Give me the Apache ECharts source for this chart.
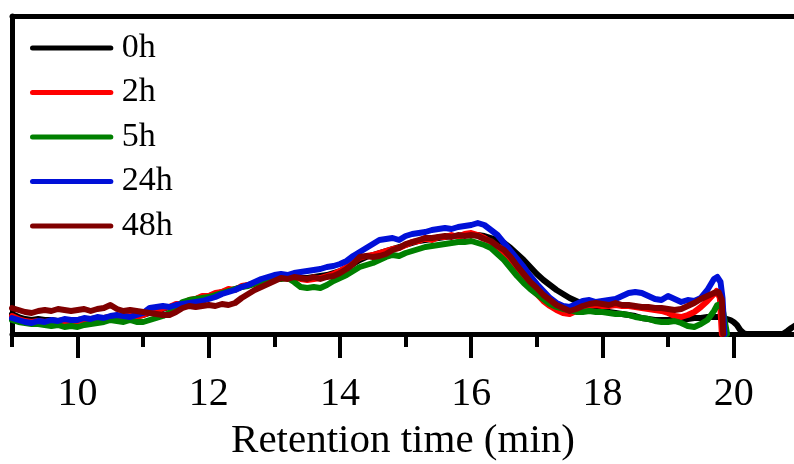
<!DOCTYPE html>
<html><head><meta charset="utf-8">
<script src="https://cdn.jsdelivr.net/npm/echarts@6/dist/echarts.min.js"></script>
<style>html,body{margin:0;padding:0;background:#fff}#c{width:794px;height:464px}</style>
</head><body><div id="c"></div>
<script>
// Retention time grid (min)
const times = [
 9.0,9.1,9.2,9.3,9.4,9.5,9.6,9.7,9.8,9.9,
 10.0,10.1,10.2,10.3,10.4,10.5,10.6,10.7,10.8,10.9,
 11.0,11.1,11.2,11.3,11.4,11.5,11.6,11.7,11.8,11.9,
 12.0,12.1,12.2,12.3,12.4,12.5,12.6,12.7,12.8,12.9,
 13.0,13.1,13.2,13.3,13.4,13.5,13.6,13.7,13.8,13.9,
 14.0,14.1,14.2,14.3,14.4,14.5,14.6,14.7,14.8,14.9,
 15.0,15.1,15.2,15.3,15.4,15.5,15.6,15.7,15.8,15.9,
 16.0,16.1,16.2,16.3,16.4,16.5,16.6,16.7,16.8,16.9,
 17.0,17.1,17.2,17.3,17.4,17.5,17.6,17.7,17.8,17.9,
 18.0,18.1,18.2,18.3,18.4,18.5,18.6,18.7,18.8,18.9,
 19.0,19.1,19.2,19.3,19.4,19.5,19.6,19.7
];
const s0h = [
 20,17,15,14,15,14,14,13,14,14,
 14,15,15,16,16,17,17,17,18,18,
 19,21,23,25,27,29,31,33,35,37,
 38,40,42,43,45,47,49,51,52,54,
 55,56,56,56,56,56,57,58,59,61,
 63,66,70,74,77,79,81,83,85,87,
 89,91,93,94,95,96,97,98,98,99,
 99,99,98,96,94,91,86,80,74,67,
 60,54,49,44,40,36,33,30,28,26,
 24,22,21,20,19,18,16,15,14,14,
 14,14,14,15,16,16,17,17
];
const tail0h = [[19.8,17],[19.9,15],[19.95,14],[20.0,12],[20.05,9],[20.1,4],[20.15,1],[20.2,0],[20.75,0],[20.82,3],[20.88,6],[20.95,9]];
const s2h = [
 18,15,13,12,13,12,13,12,13,12,
 13,14,15,14,16,17,16,17,18,17,
 19,22,22,26,27,30,30,34,35,38,
 38,41,42,45,44,48,49,51,53,55,
 56,57,56,57,55,54,55,56,58,60,
 63,67,72,76,78,79,81,83,85,86,
 89,92,93,96,94,97,97,99,97,100,
 101,99,96,92,86,80,72,64,55,46,
 40,33,28,24,21,20,23,26,28,29,
 28,28,29,28,28,27,26,25,24,23,
 21,18,17,19,22,27,33,40
];
const tail2h = [[19.74,43],[19.79,36],[19.82,0]];
const s5h = [
 14,12,11,10,10,9,8,9,7,8,
 7,9,10,11,12,14,13,12,14,12,
 12,14,16,18,21,26,32,34,35,36,
 37,39,41,43,45,47,48,50,52,53,
 55,55,56,52,47,46,47,46,49,53,
 56,59,63,67,69,71,74,77,79,78,
 81,83,85,87,88,89,90,91,92,92,
 93,91,89,86,80,74,66,58,51,45,
 40,35,30,27,25,24,22,22,23,22,
 22,21,20,20,19,17,16,15,13,12,
 12,13,11,8,7,10,14,23
];
const tail5h = [[19.75,29],[19.8,30],[19.84,22],[19.9,0]];
const s24h = [
 16,14,12,11,13,12,14,13,15,14,
 14,16,15,17,16,18,19,18,17,19,
 21,26,27,28,27,29,30,31,32,33,
 35,37,40,42,44,47,49,52,55,57,
 59,60,59,61,62,63,64,65,67,68,
 70,73,78,82,86,90,94,95,96,94,
 98,100,101,102,104,105,106,105,107,108,
 109,111,109,104,99,91,83,75,67,58,
 50,43,36,31,28,27,30,33,34,32,
 33,34,35,38,41,42,41,38,35,34,
 38,35,32,34,33,36,44,55
];
const tail24h = [[19.75,57],[19.8,52],[19.83,36],[19.86,0]];
const s48h = [
 26,24,22,21,23,24,23,25,24,23,
 24,25,23,25,26,29,25,23,24,23,
 22,21,20,19,19,22,26,28,27,28,
 29,28,30,29,31,36,40,44,47,50,
 53,56,55,57,56,55,57,55,57,58,
 61,65,70,77,78,77,78,80,84,86,
 90,92,94,96,96,97,98,97,99,98,
 99,98,95,93,88,84,77,68,60,52,
 46,39,34,29,26,23,25,28,30,31,
 30,29,31,29,29,28,27,27,26,26,
 25,24,25,28,31,35,38,41
];
const tail48h = [[19.77,42],[19.82,34],[19.84,0]];

const seriesNames = ['0h','2h','5h','24h','48h'];
const majorTicks = [10,12,14,16,18,20];
const minorTicks = [9,11,13,15,17,19];
const xMin = 9, xMax = 20.92;
const yMin = 0, yMax = 318;
const xTitle = 'Retention time (min)';

function build(vals, tail){ return times.map((t,i)=>[t, vals[i]]).concat(tail); }
const FONT = 'Liberation Serif, Times New Roman, serif';
const LEGEND_ICON = 'path://M3,0 L97,0 A3,3 0 0 1 97,6 L3,6 A3,3 0 0 1 3,0 Z';

const chart = echarts.init(document.getElementById('c'), null, {renderer:'canvas'});
const mk = (name, vals, tail, color) => ({
  name, type:'line', xAxisIndex:0, yAxisIndex:0, data: build(vals, tail),
  symbol:'none', showSymbol:false, smooth:false,
  lineStyle:{color, width:6, cap:'round', join:'round'},
  itemStyle:{color}, z:3
});
chart.setOption({
  animation:false,
  backgroundColor:'#ffffff',
  grid:[
    {left:12, right:0, top:16, bottom:130, containLabel:false, outerBoundsMode:'none'},
    {left:12, right:0, top:16, bottom:130, containLabel:false, outerBoundsMode:'none'}
  ],
  legend:{
    orient:'vertical', left:30, top:31, padding:0,
    icon: LEGEND_ICON,
    itemWidth:84, itemHeight:5, itemGap:10.5,
    data:seriesNames,
    textStyle:{fontFamily:FONT, fontSize:34, color:'#000', lineHeight:34, padding:[0,0,0,3]}
  },
  xAxis:[
    {gridIndex:0, type:'value', position:'bottom', min:xMin, max:xMax,
     name:xTitle, nameLocation:'middle', nameGap:87,
     nameTextStyle:{fontFamily:FONT, fontSize:41, color:'#000'},
     axisLine:{show:true, lineStyle:{color:'#000', width:5}},
     axisTick:{show:true, customValues:majorTicks, length:24, lineStyle:{color:'#000', width:4}},
     axisLabel:{show:true, customValues:majorTicks, margin:40, fontFamily:FONT, fontSize:40, color:'#000'},
     splitLine:{show:false}},
    {gridIndex:0, type:'value', position:'top', min:xMin, max:xMax,
     axisLine:{show:true, lineStyle:{color:'#000', width:5}},
     axisTick:{show:false}, axisLabel:{show:false}, splitLine:{show:false}},
    {gridIndex:1, type:'value', position:'bottom', min:xMin, max:xMax,
     axisLine:{show:false},
     axisTick:{show:true, customValues:minorTicks, length:13, lineStyle:{color:'#000', width:4}},
     axisLabel:{show:false}, splitLine:{show:false}}
  ],
  yAxis:[
    {gridIndex:0, type:'value', min:yMin, max:yMax,
     axisLine:{show:true, lineStyle:{color:'#000', width:5}},
     axisTick:{show:false}, axisLabel:{show:false}, splitLine:{show:false}},
    {gridIndex:1, type:'value', min:yMin, max:yMax, show:false}
  ],
  series:[
    mk(seriesNames[0], s0h, tail0h, '#000000'),
    mk(seriesNames[1], s2h, tail2h, '#ff0000'),
    mk(seriesNames[2], s5h, tail5h, '#008000'),
    mk(seriesNames[3], s24h, tail24h, '#0010d8'),
    mk(seriesNames[4], s48h, tail48h, '#800000')
  ]
});
</script>
</body></html>
